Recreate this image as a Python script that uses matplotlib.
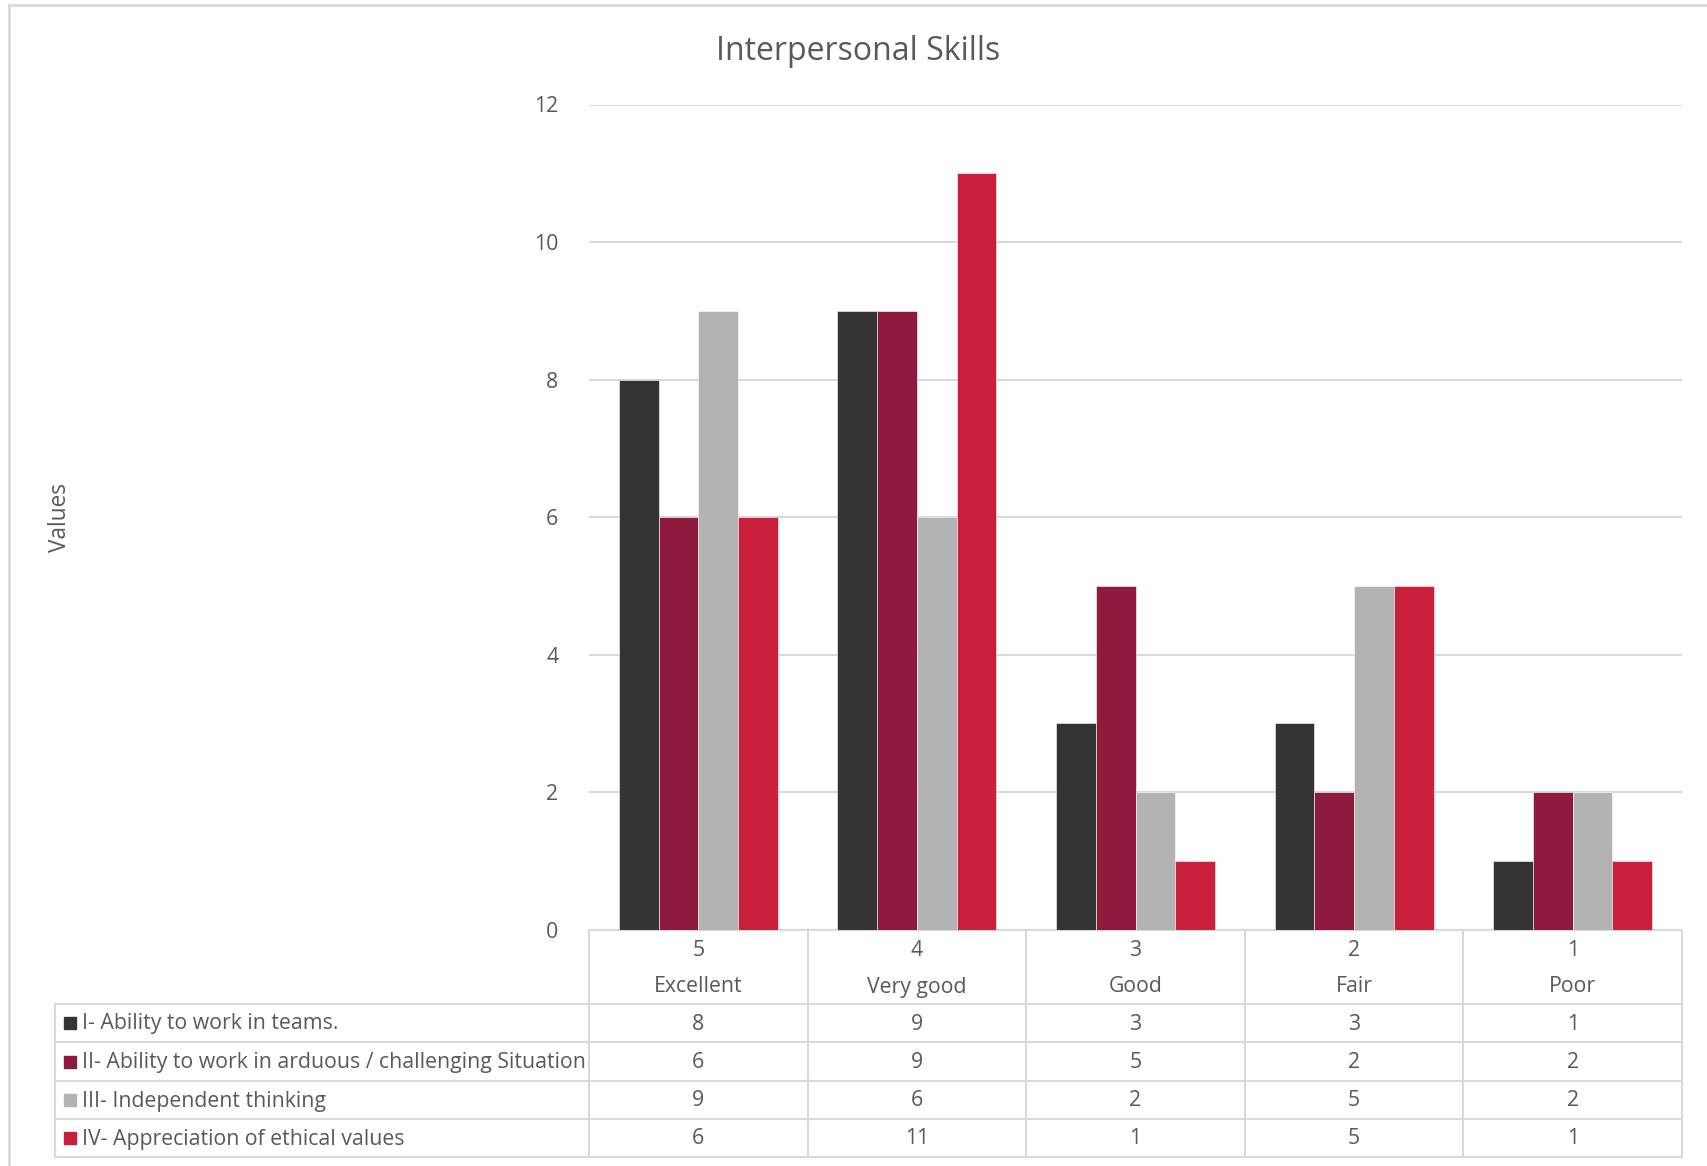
import matplotlib.pyplot as plt
import numpy as np

plt.rcParams['font.family'] = ['Open Sans', 'DejaVu Sans']

# data
ratings = ['5', '4', '3', '2', '1']
labels = ['Excellent', 'Very good', 'Good', 'Fair', 'Poor']
series_names = ['I- Ability to work in teams.',
                'II- Ability to work in arduous / challenging Situation',
                'III- Independent thinking',
                'IV- Appreciation of ethical values']
teams = [8, 9, 3, 3, 1]
arduous = [6, 9, 5, 2, 2]
independent = [9, 6, 2, 5, 2]
ethical = [6, 11, 1, 5, 1]
colors = ['#333333', '#8E1A3D', '#B3B3B3', '#C91F3D']

all_series = [teams, arduous, independent, ethical]
txt_col = '#595959'
grid_col = '#D9D9D9'
fs = 15.3

W, H = 1707, 1166
fig = plt.figure(figsize=(W / 100, H / 100), dpi=100)

# pixel layout
ax_l, ax_r, ax_t, ax_b = 589, 1682, 104.5, 929.7
ax = fig.add_axes([ax_l / W, 1 - ax_b / H, (ax_r - ax_l) / W, (ax_b - ax_t) / H])

n = len(ratings)
x = np.arange(n) + 0.5
bw = 0.182
for k, vals in enumerate(all_series):
    ax.bar(x + (k - 1.5) * bw, vals, bw, color=colors[k], edgecolor='white',
           linewidth=0.4, zorder=3, label=series_names[k])

ax.set_xlim(0, n)
ax.set_ylim(0, 12)
ax.set_yticks(range(0, 13, 2))
ax.yaxis.grid(True, color=grid_col, linewidth=1.5, zorder=0)
ax.tick_params(axis='y', length=0, pad=22, labelsize=fs, labelcolor=txt_col)
ax.set_xticks([])
for s in ['top', 'right', 'left']:
    ax.spines[s].set_visible(False)
ax.spines['bottom'].set_color(grid_col)
ax.spines['bottom'].set_linewidth(1.5)

# overlay for table, frame and titles (pixel coords)
ov = fig.add_axes([0, 0, 1, 1], zorder=-1)
ov.set_xlim(0, W)
ov.set_ylim(H, 0)
ov.axis('off')
ov2 = fig.add_axes([0, 0, 1, 1])
ov2.set_xlim(0, W)
ov2.set_ylim(H, 0)
ov2.axis('off')

# outer chart frame
ov.plot([9, W], [5, 5], color=grid_col, lw=2)
ov.plot([9, 9], [5, H], color=grid_col, lw=2)

fig.text(858 / W, 1 - 51 / H, 'Interpersonal Skills', ha='center', va='center',
         fontsize=23, color=txt_col)
fig.text(60 / W, 1 - 517 / H, 'Values', ha='center', va='center', rotation=90,
         fontsize=fs + 1, color=txt_col)

# data table
col_w = (ax_r - ax_l) / n
row_edges = [1004, 1042, 1081, 1119, 1157]
leg_l = 55
for yy in row_edges:
    ov2.plot([leg_l, ax_r], [yy, yy], color=grid_col, lw=1.5)
for j in range(n + 1):
    xx = ax_l + j * col_w
    ov2.plot([xx, xx], [ax_b, row_edges[-1]], color=grid_col, lw=1.5)
ov2.plot([leg_l, leg_l], [row_edges[0], row_edges[-1]], color=grid_col, lw=1.5)

for j in range(n):
    cx = ax_l + (j + 0.5) * col_w
    ov2.text(cx, 950, ratings[j], ha='center', va='center', fontsize=fs, color=txt_col)
    ov2.text(cx, 987, labels[j], ha='center', va='center', fontsize=fs, color=txt_col)

for i, vals in enumerate(all_series):
    cy = (row_edges[i] + row_edges[i + 1]) / 2
    ov2.add_patch(plt.Rectangle((64, cy - 6), 12, 12, color=colors[i]))
    ov2.text(82, cy + 1, series_names[i], ha='left', va='center', fontsize=fs, color=txt_col)
    for j in range(n):
        cx = ax_l + (j + 0.5) * col_w
        ov2.text(cx, cy + 1, str(vals[j]), ha='center', va='center', fontsize=fs, color=txt_col)

fig.savefig('out.png', dpi=100)
